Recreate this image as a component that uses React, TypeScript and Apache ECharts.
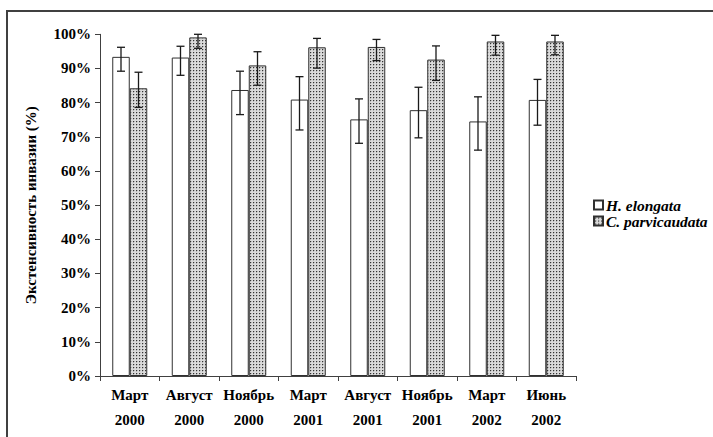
import React, { useEffect, useRef } from "react";
import * as echarts from "echarts";

// Survey periods (month, year) along the x axis
const months = ["Март", "Август", "Ноябрь", "Март", "Август", "Ноябрь", "Март", "Июнь"];
const years = ["2000", "2000", "2000", "2001", "2001", "2001", "2002", "2002"];

// Prevalence of infection, %
const elongata = [93.4, 93.2, 83.7, 80.9, 75.1, 77.8, 74.5, 80.8];
const parvicaudata = [84.2, 99.1, 90.9, 96.2, 96.3, 92.6, 97.9, 97.9];

// Confidence interval bounds, %
const elongataLow = [89.2, 88.0, 76.5, 72.0, 68.1, 69.7, 66.1, 73.4];
const elongataHigh = [96.2, 96.5, 89.2, 87.6, 81.1, 84.5, 81.7, 86.8];
const parvicaudataLow = [78.6, 95.9, 85.1, 90.1, 92.3, 86.5, 93.9, 94.0];
const parvicaudataHigh = [88.9, 100, 94.9, 98.8, 98.5, 96.6, 99.7, 99.7];

const yTicks = [0, 10, 20, 30, 40, 50, 60, 70, 80, 90, 100];

const BAR_W = 17.5;
const FONT = "Liberation Serif";

// Small dotted fill used for the second series
function dotPattern(): HTMLCanvasElement {
  const c = document.createElement("canvas");
  c.width = 3;
  c.height = 3;
  const ctx = c.getContext("2d")!;
  ctx.fillStyle = "#dadada";
  ctx.fillRect(0, 0, 3, 3);
  ctx.fillStyle = "#b4b4b4";
  ctx.fillRect(2, 1, 1, 1);
  ctx.fillRect(1, 2, 1, 1);
  ctx.fillStyle = "#333333";
  ctx.fillRect(1, 1, 1, 1);
  return c;
}

function errorSeries(low: number[], high: number[], offset: number) {
  return {
    type: "custom",
    silent: true,
    z: 5,
    data: low.map((l, i) => [i, l, high[i]]),
    encode: { x: 0, y: [1, 2] },
    renderItem: (_params: any, api: any) => {
      const i = api.value(0);
      const lo = api.coord([i, api.value(1)]);
      const hi = api.coord([i, api.value(2)]);
      const x = lo[0] + offset;
      const cap = 4;
      const style = { stroke: "#1a1a1a", lineWidth: 1.3 };
      return {
        type: "group",
        children: [
          { type: "line", shape: { x1: x, y1: lo[1], x2: x, y2: hi[1] }, style },
          { type: "line", shape: { x1: x - cap, y1: lo[1], x2: x + cap, y2: lo[1] }, style },
          { type: "line", shape: { x1: x - cap, y1: hi[1], x2: x + cap, y2: hi[1] }, style },
        ],
      };
    },
  };
}

export default function App() {
  const ref = useRef<HTMLDivElement>(null);

  useEffect(() => {
    if (!ref.current) return;
    const chart = echarts.init(ref.current, undefined, { renderer: "svg" });
    const categories = months.map((m, i) => `${m}\n${years[i]}`);
    const pattern = { image: dotPattern(), repeat: "repeat" };

    chart.setOption({
      animation: false,
      backgroundColor: "#ffffff",
      textStyle: { fontFamily: FONT },
      grid: { left: 100, right: 137, top: 34.3, bottom: 61 },
      graphic: [
        {
          type: "polyline",
          shape: { points: [[7, 440], [7, 11], [720, 11]] },
          style: { fill: "none", stroke: "#404040", lineWidth: 2 },
          silent: true,
        },
      ],
      legend: {
        orient: "vertical",
        left: 588,
        top: 192,
        itemWidth: 9,
        itemHeight: 9,
        itemGap: 0,
        icon: "rect",
        data: ["H. elongata", "C. parvicaudata"],
        textStyle: {
          fontFamily: FONT,
          fontWeight: "bold",
          fontStyle: "italic",
          fontSize: 15.5,
          color: "#000",
          padding: [0, 0, 0, -2],
        },
      },
      xAxis: {
        type: "category",
        data: categories,
        axisLine: { lineStyle: { color: "#404040", width: 1 } },
        axisTick: { show: true, length: 5, lineStyle: { color: "#404040" } },
        axisLabel: {
          interval: 0,
          margin: 6,
          fontFamily: FONT,
          fontWeight: "bold",
          fontSize: 15,
          lineHeight: 25,
          color: "#000",
        },
      },
      yAxis: {
        type: "value",
        min: 0,
        max: 100,
        interval: 10,
        name: "Экстенсивность инвазии (%)",
        nameLocation: "middle",
        nameRotate: 90,
        nameGap: 62,
        nameTextStyle: {
          fontFamily: FONT,
          fontWeight: "bold",
          fontSize: 15,
          color: "#000",
        },
        axisLine: { show: true, lineStyle: { color: "#404040", width: 1 } },
        axisTick: { show: true, length: 5, lineStyle: { color: "#404040" } },
        splitLine: { show: false },
        axisLabel: {
          margin: 9,
          fontFamily: FONT,
          fontWeight: "bold",
          fontSize: 15,
          color: "#000",
          formatter: (v: number) => (yTicks.includes(v) ? `${v}%` : ""),
        },
      },
      series: [
        {
          name: "H. elongata",
          type: "bar",
          barWidth: BAR_W,
          barGap: "0%",
          data: elongata,
          itemStyle: { color: "#ffffff", borderColor: "#303030", borderWidth: 1 },
        },
        {
          name: "C. parvicaudata",
          type: "bar",
          barWidth: BAR_W,
          barGap: "0%",
          data: parvicaudata,
          itemStyle: { color: pattern, borderColor: "#303030", borderWidth: 1 },
        },
        errorSeries(elongataLow, elongataHigh, -BAR_W / 2),
        errorSeries(parvicaudataLow, parvicaudataHigh, BAR_W / 2),
      ],
    });

    return () => chart.dispose();
  }, []);

  return (
    <div
      ref={ref}
      style={{ position: "absolute", left: 0, top: 0, width: 713, height: 437 }}
    />
  );
}
